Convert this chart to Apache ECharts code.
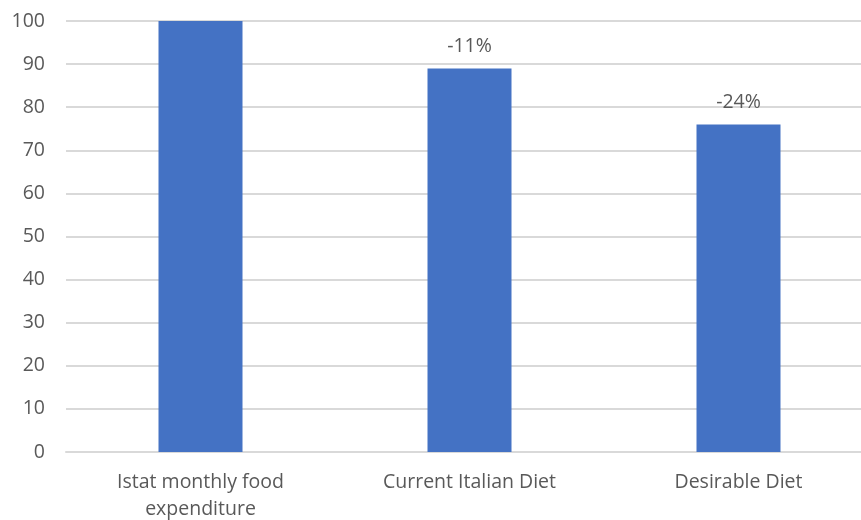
<!DOCTYPE html>
<html><head><meta charset="utf-8">
<script src="https://cdn.jsdelivr.net/npm/echarts@6/dist/echarts.min.js"></script>
<style>html,body{margin:0;padding:0;background:#fff}#c{width:861px;height:520px}</style>
</head><body><div id="c"></div>
<script>
const categories = ["Istat monthly food\nexpenditure", "Current Italian Diet", "Desirable Diet"];
const values = [100, 89, 76];
const changeLabels = ["", "-11%", "-24%"];
const yTicks = [0, 10, 20, 30, 40, 50, 60, 70, 80, 90, 100];

const FONT = "Open Sans";
const chart = echarts.init(document.getElementById('c'), null, {renderer: 'canvas'});
chart.setOption({
  animation: false,
  grid: {left: 66, top: 21, width: 807, height: 431, containLabel: false, outerBoundsMode: 'none'},
  xAxis: {
    type: 'category', data: categories,
    axisLine: {show: true, lineStyle: {color: '#d9d9d9', width: 2}},
    axisTick: {show: false},
    axisLabel: {color: '#595959', fontFamily: FONT, fontSize: 19.5, lineHeight: 27, margin: 17}
  },
  yAxis: {
    type: 'value', min: yTicks[0], max: yTicks[yTicks.length - 1], interval: 10,
    axisLine: {show: false}, axisTick: {show: false},
    splitLine: {lineStyle: {color: '#d9d9d9', width: 2}},
    axisLabel: {color: '#595959', fontFamily: FONT, fontSize: 19.5, margin: 21}
  },
  series: [{
    type: 'bar', data: values, barWidth: 84,
    itemStyle: {color: '#4472C4'},
    label: {
      show: true, position: 'top', distance: 12,
      color: '#595959', fontFamily: FONT, fontSize: 19.5,
      formatter: p => changeLabels[p.dataIndex]
    }
  }]
});
</script></body></html>
